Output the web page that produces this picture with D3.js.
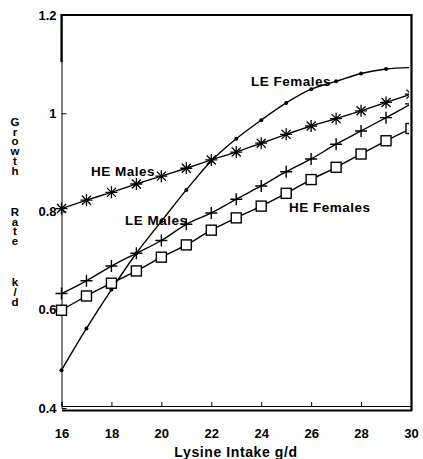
<!DOCTYPE html>
<html>
<head>
<meta charset="utf-8">
<script src="https://cdn.jsdelivr.net/npm/d3@7"></script>
<style>
  body { margin: 0; background: #fff; }
  text { font-family: "Liberation Sans", Arial, sans-serif; font-weight: bold; fill: #000; }
</style>
</head>
<body>
<div id="chart"></div>
<script>
var intake = [16, 17, 18, 19, 20, 21, 22, 23, 24, 25, 26, 27, 28, 29, 30];

var heMales   = [0.806, 0.823, 0.839, 0.856, 0.872, 0.888, 0.905, 0.921, 0.939, 0.957, 0.974, 0.989, 1.005, 1.022, 1.039];
var leFemales = [0.477, 0.562, 0.641, 0.715, 0.780, 0.844, 0.903, 0.948, 0.986, 1.021, 1.049, 1.065, 1.081, 1.090, 1.093];
var leMales   = [0.633, 0.659, 0.689, 0.715, 0.741, 0.774, 0.797, 0.825, 0.852, 0.881, 0.907, 0.937, 0.964, 0.991, 1.019];
var heFemales = [0.599, 0.628, 0.654, 0.679, 0.707, 0.732, 0.762, 0.787, 0.811, 0.837, 0.865, 0.890, 0.917, 0.944, 0.969];

var xTicks = [16, 18, 20, 22, 24, 26, 28, 30];
var yTicks = [0.4, 0.6, 0.8, 1, 1.2];

var series = [
    { name: "HE Males",   values: heMales,   marker: "star",   label: [91, 176] },
    { name: "LE Females", values: leFemales, marker: "dot",    label: [251, 86] },
    { name: "LE Males",   values: leMales,   marker: "plus",   label: [125, 225] },
    { name: "HE Females", values: heFemales, marker: "square", label: [289, 212] }
];

var yTitle = "Growth Rate k/d";

var width = 423, height = 459;
var svg = d3.select("#chart").append("svg").attr("width", width).attr("height", height);

var x = d3.scaleLinear().domain([16, 30]).range([61.5, 411]);
var y = d3.scaleLinear().domain([0.4, 1.2]).range([408, 15]);

// frame
svg.append("line").attr("x1", 61).attr("x2", 412).attr("y1", 15).attr("y2", 15)
    .attr("stroke", "#000").attr("stroke-width", 2.2);
svg.append("line").attr("x1", 411.5).attr("x2", 411.5).attr("y1", 14).attr("y2", 411)
    .attr("stroke", "#000").attr("stroke-width", 2.2);
svg.append("line").attr("x1", 62).attr("x2", 412).attr("y1", 410.5).attr("y2", 410.5)
    .attr("stroke", "#000").attr("stroke-width", 2);
svg.append("line").attr("x1", 61.5).attr("x2", 61.5).attr("y1", 14).attr("y2", 62)
    .attr("stroke", "#000").attr("stroke-width", 2.2);

// axes
var xAxis = svg.append("g").attr("transform", "translate(0,406)")
    .call(d3.axisBottom(x).tickValues(xTicks).tickSize(-4).tickPadding(20).tickFormat(d3.format("d")));
xAxis.select(".domain").attr("stroke-width", 1);
xAxis.selectAll("text").attr("font-size", 13).attr("dy", "0.9em");

var yAxis = svg.append("g").attr("transform", "translate(61.5,0)")
    .call(d3.axisLeft(y).tickValues(yTicks).tickSize(-5).tickPadding(5).tickFormat(function(d) { return d == 1 ? "1" : d3.format(".1f")(d); }));
yAxis.select(".domain").attr("stroke-width", 1);
yAxis.selectAll("text").attr("font-size", 13);
yAxis.selectAll(".tick").filter(function(d) { return d == 1.2 || d == 0.4; }).select("line").remove();

// axis titles
svg.append("text").attr("x", 236).attr("y", 456.5).attr("text-anchor", "middle")
    .attr("font-size", 14).attr("letter-spacing", 0.6).text("Lysine Intake g/d");

svg.append("text").attr("x", 15).attr("y", 116)
    .attr("font-size", 11.5)
    .style("writing-mode", "vertical-rl")
    .style("text-orientation", "upright")
    .style("letter-spacing", "-2.3px")
    .style("word-spacing", "22px")
    .text(yTitle);

// data
svg.append("clipPath").attr("id", "plot-clip").append("rect")
    .attr("x", 40).attr("y", 15).attr("width", 369).attr("height", 400);

var plot = svg.append("g").attr("clip-path", "url(#plot-clip)");
var line = d3.line()
    .x(function(d, i) { return x(intake[i]); })
    .y(function(d) { return y(d); })
    .curve(d3.curveCatmullRom);

series.forEach(function(s) {
    plot.append("path").datum(s.values).attr("d", line)
        .attr("fill", "none").attr("stroke", "#000").attr("stroke-width", 1.4);

    var g = plot.append("g").selectAll("g").data(s.values).enter().append("g")
        .attr("transform", function(d, i) { return "translate(" + x(intake[i]) + "," + y(d) + ")"; });

    if (s.marker == "dot") {
        g.append("circle").attr("r", 2).attr("fill", "#000");
    } else if (s.marker == "square") {
        g.append("rect").attr("x", -5).attr("y", -5).attr("width", 10).attr("height", 10)
            .attr("fill", "#fff").attr("stroke", "#000").attr("stroke-width", 1.4);
    } else if (s.marker == "plus") {
        g.append("path").attr("d", "M-6,0H6M0,-6V6").attr("stroke", "#000").attr("stroke-width", 1.4);
    } else {
        g.append("path").attr("d", "M-6,0H6M0,-6V6M-4.5,-4.5L4.5,4.5M-4.5,4.5L4.5,-4.5")
            .attr("stroke", "#000").attr("stroke-width", 1.3);
    }

    svg.append("text").attr("x", s.label[0]).attr("y", s.label[1])
        .attr("font-size", 13.5).attr("letter-spacing", 0.5).text(s.name);
});
</script>
</body>
</html>
